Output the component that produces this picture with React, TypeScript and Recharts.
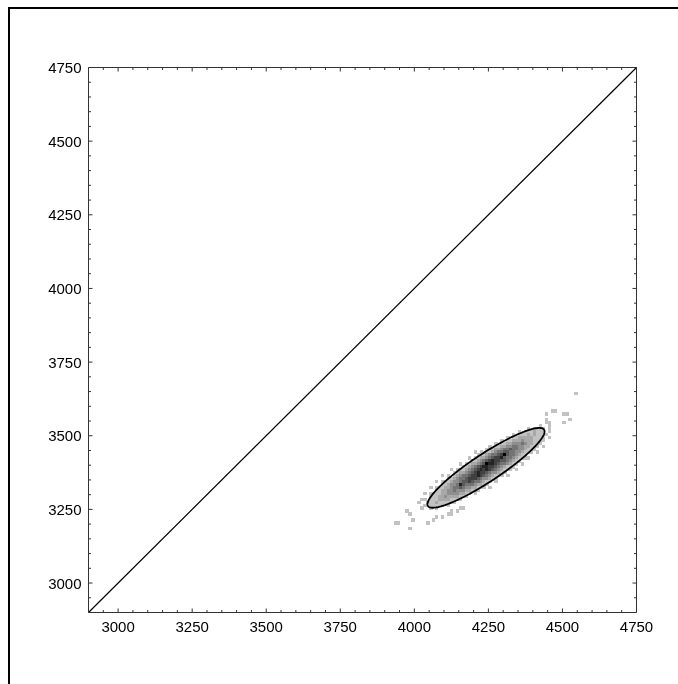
import { ScatterChart, Scatter, XAxis, YAxis, ReferenceLine } from 'recharts'

// 2D histogram, 10 x 10 bins.
// One entry per row from the top: [first column, levels], '.' = empty, 1 (light) .. 8 (black)
const BIN = 10
const BIN_X0 = 3930
const BIN_Y_TOP = 3660
const HIST_ROWS: [number, string][] = [
    [0, ''],
    [61, '1'],
    [0, ''],
    [0, ''],
    [0, ''],
    [0, ''],
    [0, ''],
    [53, '11'],
    [51, '1.....11'],
    [0, ''],
    [51, '1.......1'],
    [51, '11....1'],
    [49, '1..1'],
    [45, '1.1111.1'],
    [42, '1.1112111.1'],
    [40, '1.1112121111'],
    [38, '1.11222221111.1'],
    [36, '1.1122232221111'],
    [34, '1.11223334322111'],
    [32, '1.112233443322111.1'],
    [31, '11122344544332111'],
    [27, '1.1.1123445544332111.1'],
    [28, '11123445685443211'],
    [25, '1.1122345667544321111'],
    [26, '11234567665543211'],
    [22, '1.112234587765443211.1'],
    [23, '112345677665432111'],
    [19, '1.1112345676765432111.1'],
    [20, '112234567665433211'],
    [16, '1.1.12344566765432111.1'],
    [18, '11234456665433211'],
    [14, '1.11123345565443211.1'],
    [16, '1123347544432211'],
    [12, '1.11122344543322111.1'],
    [14, '112233433322111'],
    [10, '1.11112233332211.1'],
    [12, '1112232222111'],
    [9, '11.11122221111'],
    [8, '1..1112111111'],
    [10, '1.11111.1'],
    [9, '1..1.1.......11'],
    [4, '1..............1.1'],
    [5, '1............11'],
    [14, '1.1'],
    [6, '1......1'],
    [0, '11.........1'],
    [0, ''],
    [5, '1'],
]

const SHADES = ['', '#c2c2c2', '#a8a8a8', '#8e8e8e', '#747474', '#5a5a5a', '#404040', '#242424', '#000000']

const DOMAIN: [number, number] = [2900, 4750]
const MAJOR_TICKS = [3000, 3250, 3500, 3750, 4000, 4250, 4500, 4750]

// fitted contour
const ELLIPSE_CENTER = { x: 4242, y: 3391 }
const ELLIPSE_AXES = { a: 235, b: 47 }
const ELLIPSE_ANGLE = 33.5

const W = 660
const H = 660
const LEFT = 80.5
const TOP = 59.5
const PLOT_W = 548
const PLOT_H = 545
const RIGHT = LEFT + PLOT_W
const BOTTOM = TOP + PLOT_H
const FRAME = '#333'
const FONT = '"Liberation Sans", Arial, sans-serif'

const allTicks: number[] = []
for (let v = 2950; v <= 4750; v += 50) allTicks.push(v)

const histData = HIST_ROWS.flatMap(([start, cells], r) =>
    cells.split('').map((ch, i) => ({
        x: BIN_X0 + (start + i) * BIN + BIN / 2,
        y: BIN_Y_TOP - r * BIN - BIN / 2,
        level: ch === '.' ? 0 : Number(ch),
    }))
).filter(d => d.level > 0)

const ellipseData = (() => {
    const t = (ELLIPSE_ANGLE * Math.PI) / 180
    const pts = []
    for (let i = 0; i <= 180; i++) {
        const u = (i / 180) * Math.PI * 2
        const p = ELLIPSE_AXES.a * Math.cos(u)
        const q = ELLIPSE_AXES.b * Math.sin(u)
        pts.push({ x: ELLIPSE_CENTER.x + p * Math.cos(t) - q * Math.sin(t), y: ELLIPSE_CENTER.y + p * Math.sin(t) + q * Math.cos(t) })
    }
    return pts
})()

const cellW = (PLOT_W / (DOMAIN[1] - DOMAIN[0])) * BIN
const cellH = (PLOT_H / (DOMAIN[1] - DOMAIN[0])) * BIN

function Cell2D(props: any) {
    const { cx, cy, payload } = props
    return (
        <rect
            x={cx - cellW / 2}
            y={cy - cellH / 2}
            width={cellW + 0.4}
            height={cellH + 0.4}
            fill={SHADES[payload.level]}
            shapeRendering="crispEdges"
        />
    )
}

function XTick({ x, payload }: any) {
    const major = MAJOR_TICKS.includes(payload.value)
    const len = major ? 4 : 2.5
    return (
        <g>
            <line x1={x} x2={x} y1={BOTTOM} y2={BOTTOM - len} stroke={FRAME} />
            <line x1={x} x2={x} y1={TOP} y2={TOP + len} stroke={FRAME} />
            {major && (
                <text x={x} y={BOTTOM + 19.5} textAnchor="middle" fontSize={15} fontFamily={FONT} fill="#000">
                    {payload.value}
                </text>
            )}
        </g>
    )
}

function YTick({ y, payload }: any) {
    const major = MAJOR_TICKS.includes(payload.value)
    const len = major ? 4 : 2.5
    return (
        <g>
            <line x1={LEFT} x2={LEFT + len} y1={y} y2={y} stroke={FRAME} />
            <line x1={RIGHT} x2={RIGHT - len} y1={y} y2={y} stroke={FRAME} />
            {major && (
                <text x={LEFT - 7} y={y + 5.5} textAnchor="end" fontSize={15} fontFamily={FONT} fill="#000">
                    {payload.value}
                </text>
            )}
        </g>
    )
}

export default function App() {
    return (
        <div>
            <div style={{ position: 'fixed', top: 7, left: 8, right: 0, height: 2, background: '#000' }} />
            <div style={{ position: 'fixed', top: 7, left: 8, bottom: 0, width: 2, background: '#000' }} />
            <ScatterChart
                width={W}
                height={H}
                margin={{ top: TOP, right: W - RIGHT, bottom: H - BOTTOM - 30, left: 0.5 }}
            >
                <XAxis
                    type="number"
                    dataKey="x"
                    domain={DOMAIN}
                    ticks={allTicks}
                    interval={0}
                    height={30}
                    tickSize={0}
                    tickMargin={0}
                    tick={<XTick />}
                    axisLine={{ stroke: FRAME }}
                    allowDataOverflow
                />
                <YAxis
                    type="number"
                    dataKey="y"
                    domain={DOMAIN}
                    ticks={allTicks}
                    interval={0}
                    width={80}
                    tickSize={0}
                    tickMargin={0}
                    tick={<YTick />}
                    axisLine={{ stroke: FRAME }}
                    allowDataOverflow
                />
                <ReferenceLine y={4750} stroke={FRAME} />
                <ReferenceLine x={4750} stroke={FRAME} />
                <Scatter data={histData} shape={<Cell2D />} isAnimationActive={false} />
                <ReferenceLine
                    segment={[{ x: 2900, y: 2900 }, { x: 4750, y: 4750 }]}
                    stroke="#000"
                    strokeWidth={1.2}
                />
                <Scatter
                    data={ellipseData}
                    line={{ stroke: '#000', strokeWidth: 1.8 }}
                    shape={() => <g />}
                    isAnimationActive={false}
                />
            </ScatterChart>
        </div>
    )
}
